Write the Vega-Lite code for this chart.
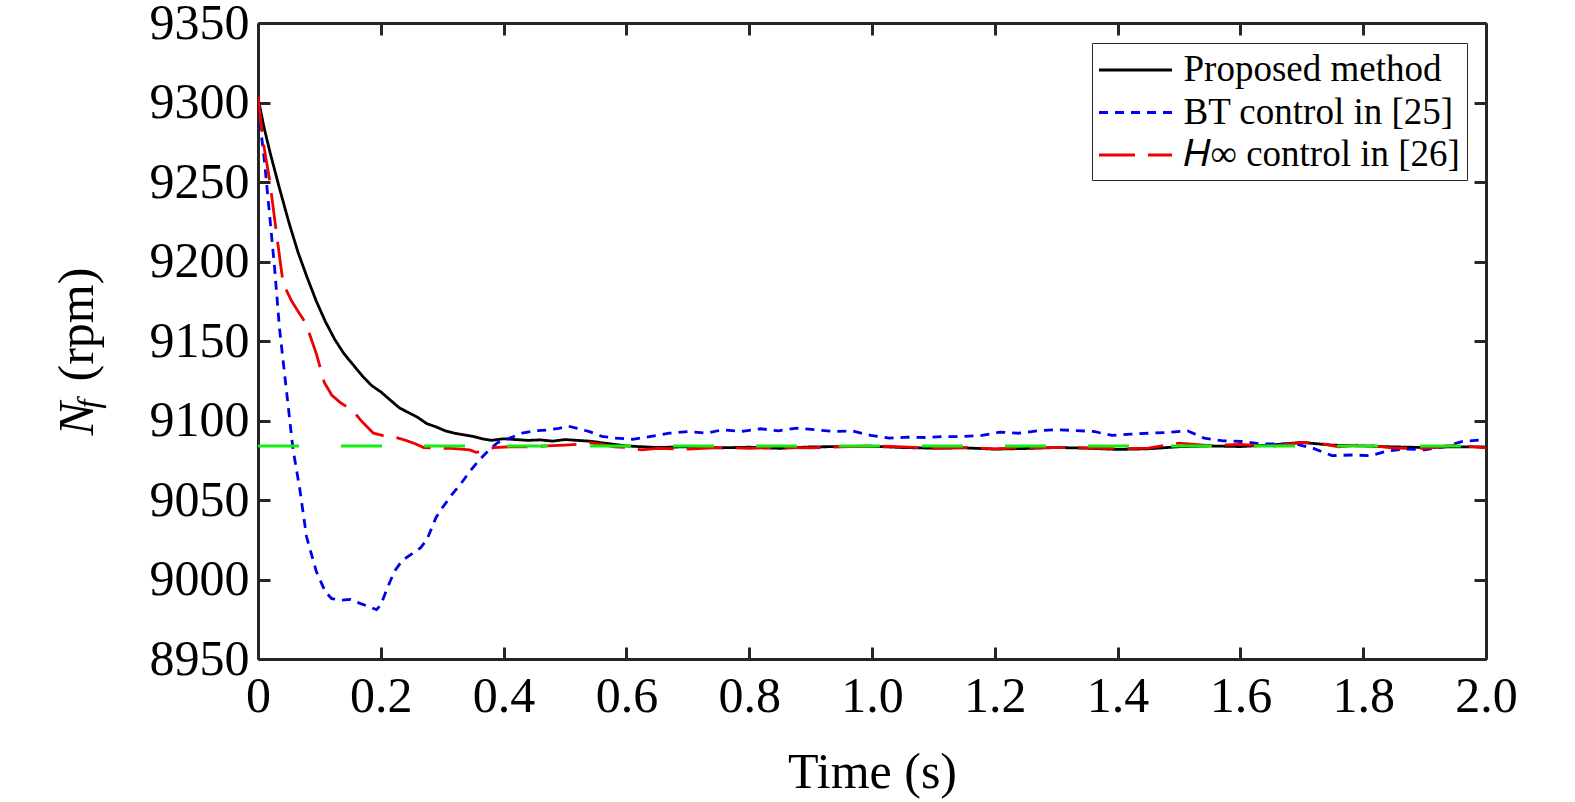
{
  "$schema": "https://vega.github.io/schema/vega-lite/v6.json",
  "width": 1228,
  "height": 636,
  "autosize": {"type": "none"},
  "padding": {"left": 258, "top": 23, "right": 89, "bottom": 143},
  "background": "white",
  "config": {
    "view": {"stroke": null},
    "axis": {
      "grid": false,
      "domainColor": "#262626",
      "domainWidth": 3,
      "tickColor": "#262626",
      "tickWidth": 3,
      "tickSize": -12,
      "labelFont": "Liberation Serif",
      "labelFontSize": 50,
      "labelColor": "black",
      "labelOverlap": false,
      "labelFlush": false,
      "titleFont": "Liberation Serif",
      "titleFontSize": 50,
      "titleFontWeight": "normal",
      "titleColor": "black"
    }
  },
  "datasets": {
    "curves": [
      {"t": 0, "v": 9303, "s": "Proposed method"},
      {"t": 0.01, "v": 9284, "s": "Proposed method"},
      {"t": 0.02, "v": 9268, "s": "Proposed method"},
      {"t": 0.035, "v": 9246, "s": "Proposed method"},
      {"t": 0.05, "v": 9225, "s": "Proposed method"},
      {"t": 0.065, "v": 9206, "s": "Proposed method"},
      {"t": 0.08, "v": 9190, "s": "Proposed method"},
      {"t": 0.095, "v": 9175, "s": "Proposed method"},
      {"t": 0.11, "v": 9162, "s": "Proposed method"},
      {"t": 0.125, "v": 9151, "s": "Proposed method"},
      {"t": 0.14, "v": 9142, "s": "Proposed method"},
      {"t": 0.155, "v": 9135, "s": "Proposed method"},
      {"t": 0.17, "v": 9128, "s": "Proposed method"},
      {"t": 0.185, "v": 9122, "s": "Proposed method"},
      {"t": 0.2, "v": 9118, "s": "Proposed method"},
      {"t": 0.215, "v": 9113, "s": "Proposed method"},
      {"t": 0.23, "v": 9108, "s": "Proposed method"},
      {"t": 0.245, "v": 9105, "s": "Proposed method"},
      {"t": 0.26, "v": 9102, "s": "Proposed method"},
      {"t": 0.275, "v": 9098, "s": "Proposed method"},
      {"t": 0.29, "v": 9096, "s": "Proposed method"},
      {"t": 0.305, "v": 9093.5, "s": "Proposed method"},
      {"t": 0.32, "v": 9092, "s": "Proposed method"},
      {"t": 0.335, "v": 9091, "s": "Proposed method"},
      {"t": 0.35, "v": 9090, "s": "Proposed method"},
      {"t": 0.365, "v": 9088.5, "s": "Proposed method"},
      {"t": 0.38, "v": 9087.5, "s": "Proposed method"},
      {"t": 0.4, "v": 9088.5, "s": "Proposed method"},
      {"t": 0.42, "v": 9088, "s": "Proposed method"},
      {"t": 0.44, "v": 9087.5, "s": "Proposed method"},
      {"t": 0.46, "v": 9087.8, "s": "Proposed method"},
      {"t": 0.48, "v": 9087, "s": "Proposed method"},
      {"t": 0.5, "v": 9088, "s": "Proposed method"},
      {"t": 0.52, "v": 9087.5, "s": "Proposed method"},
      {"t": 0.54, "v": 9087, "s": "Proposed method"},
      {"t": 0.56, "v": 9086, "s": "Proposed method"},
      {"t": 0.58, "v": 9085, "s": "Proposed method"},
      {"t": 0.6, "v": 9084, "s": "Proposed method"},
      {"t": 0.65, "v": 9083, "s": "Proposed method"},
      {"t": 0.7, "v": 9083.5, "s": "Proposed method"},
      {"t": 0.75, "v": 9082.8, "s": "Proposed method"},
      {"t": 0.8, "v": 9083.2, "s": "Proposed method"},
      {"t": 0.85, "v": 9082.5, "s": "Proposed method"},
      {"t": 0.9, "v": 9083.4, "s": "Proposed method"},
      {"t": 0.95, "v": 9083.6, "s": "Proposed method"},
      {"t": 1.0, "v": 9083.8, "s": "Proposed method"},
      {"t": 1.05, "v": 9083, "s": "Proposed method"},
      {"t": 1.1, "v": 9082.6, "s": "Proposed method"},
      {"t": 1.15, "v": 9082.8, "s": "Proposed method"},
      {"t": 1.2, "v": 9082, "s": "Proposed method"},
      {"t": 1.25, "v": 9082.4, "s": "Proposed method"},
      {"t": 1.3, "v": 9083, "s": "Proposed method"},
      {"t": 1.35, "v": 9082.6, "s": "Proposed method"},
      {"t": 1.4, "v": 9081.8, "s": "Proposed method"},
      {"t": 1.45, "v": 9082.2, "s": "Proposed method"},
      {"t": 1.5, "v": 9083.5, "s": "Proposed method"},
      {"t": 1.55, "v": 9084, "s": "Proposed method"},
      {"t": 1.6, "v": 9083.6, "s": "Proposed method"},
      {"t": 1.65, "v": 9084.6, "s": "Proposed method"},
      {"t": 1.7, "v": 9086.2, "s": "Proposed method"},
      {"t": 1.75, "v": 9084.5, "s": "Proposed method"},
      {"t": 1.8, "v": 9084, "s": "Proposed method"},
      {"t": 1.85, "v": 9083.4, "s": "Proposed method"},
      {"t": 1.9, "v": 9083, "s": "Proposed method"},
      {"t": 1.95, "v": 9083.5, "s": "Proposed method"},
      {"t": 2.0, "v": 9083.3, "s": "Proposed method"},

      {"t": 0, "v": 9298, "s": "BT control in [25]"},
      {"t": 0.01, "v": 9265, "s": "BT control in [25]"},
      {"t": 0.019, "v": 9229, "s": "BT control in [25]"},
      {"t": 0.027, "v": 9196, "s": "BT control in [25]"},
      {"t": 0.035, "v": 9158, "s": "BT control in [25]"},
      {"t": 0.046, "v": 9120, "s": "BT control in [25]"},
      {"t": 0.057, "v": 9082, "s": "BT control in [25]"},
      {"t": 0.068, "v": 9057, "s": "BT control in [25]"},
      {"t": 0.079, "v": 9027, "s": "BT control in [25]"},
      {"t": 0.095, "v": 9005, "s": "BT control in [25]"},
      {"t": 0.11, "v": 8992, "s": "BT control in [25]"},
      {"t": 0.12, "v": 8988, "s": "BT control in [25]"},
      {"t": 0.135, "v": 8987, "s": "BT control in [25]"},
      {"t": 0.15, "v": 8987.5, "s": "BT control in [25]"},
      {"t": 0.166, "v": 8985, "s": "BT control in [25]"},
      {"t": 0.18, "v": 8983, "s": "BT control in [25]"},
      {"t": 0.193, "v": 8981, "s": "BT control in [25]"},
      {"t": 0.2, "v": 8984, "s": "BT control in [25]"},
      {"t": 0.21, "v": 8994, "s": "BT control in [25]"},
      {"t": 0.222, "v": 9005, "s": "BT control in [25]"},
      {"t": 0.235, "v": 9012, "s": "BT control in [25]"},
      {"t": 0.25, "v": 9016, "s": "BT control in [25]"},
      {"t": 0.265, "v": 9020, "s": "BT control in [25]"},
      {"t": 0.275, "v": 9025, "s": "BT control in [25]"},
      {"t": 0.29, "v": 9039, "s": "BT control in [25]"},
      {"t": 0.3, "v": 9045, "s": "BT control in [25]"},
      {"t": 0.315, "v": 9053, "s": "BT control in [25]"},
      {"t": 0.33, "v": 9060, "s": "BT control in [25]"},
      {"t": 0.345, "v": 9068, "s": "BT control in [25]"},
      {"t": 0.36, "v": 9075, "s": "BT control in [25]"},
      {"t": 0.375, "v": 9081, "s": "BT control in [25]"},
      {"t": 0.39, "v": 9086, "s": "BT control in [25]"},
      {"t": 0.41, "v": 9089, "s": "BT control in [25]"},
      {"t": 0.43, "v": 9092, "s": "BT control in [25]"},
      {"t": 0.45, "v": 9093.5, "s": "BT control in [25]"},
      {"t": 0.47, "v": 9094, "s": "BT control in [25]"},
      {"t": 0.49, "v": 9095, "s": "BT control in [25]"},
      {"t": 0.505, "v": 9096.5, "s": "BT control in [25]"},
      {"t": 0.52, "v": 9095, "s": "BT control in [25]"},
      {"t": 0.54, "v": 9093, "s": "BT control in [25]"},
      {"t": 0.56, "v": 9090, "s": "BT control in [25]"},
      {"t": 0.58, "v": 9089, "s": "BT control in [25]"},
      {"t": 0.61, "v": 9088.2, "s": "BT control in [25]"},
      {"t": 0.64, "v": 9090, "s": "BT control in [25]"},
      {"t": 0.67, "v": 9092, "s": "BT control in [25]"},
      {"t": 0.7, "v": 9093, "s": "BT control in [25]"},
      {"t": 0.73, "v": 9092, "s": "BT control in [25]"},
      {"t": 0.757, "v": 9094.2, "s": "BT control in [25]"},
      {"t": 0.787, "v": 9093.1, "s": "BT control in [25]"},
      {"t": 0.818, "v": 9094.8, "s": "BT control in [25]"},
      {"t": 0.848, "v": 9093.5, "s": "BT control in [25]"},
      {"t": 0.877, "v": 9095.2, "s": "BT control in [25]"},
      {"t": 0.908, "v": 9094.2, "s": "BT control in [25]"},
      {"t": 0.938, "v": 9093.1, "s": "BT control in [25]"},
      {"t": 0.967, "v": 9093.5, "s": "BT control in [25]"},
      {"t": 0.998, "v": 9090.6, "s": "BT control in [25]"},
      {"t": 1.028, "v": 9088.9, "s": "BT control in [25]"},
      {"t": 1.057, "v": 9089.5, "s": "BT control in [25]"},
      {"t": 1.089, "v": 9089.3, "s": "BT control in [25]"},
      {"t": 1.118, "v": 9089.9, "s": "BT control in [25]"},
      {"t": 1.148, "v": 9089.9, "s": "BT control in [25]"},
      {"t": 1.179, "v": 9090.6, "s": "BT control in [25]"},
      {"t": 1.208, "v": 9092.7, "s": "BT control in [25]"},
      {"t": 1.238, "v": 9092, "s": "BT control in [25]"},
      {"t": 1.27, "v": 9093.5, "s": "BT control in [25]"},
      {"t": 1.301, "v": 9094.2, "s": "BT control in [25]"},
      {"t": 1.331, "v": 9093.7, "s": "BT control in [25]"},
      {"t": 1.361, "v": 9093.1, "s": "BT control in [25]"},
      {"t": 1.391, "v": 9090.6, "s": "BT control in [25]"},
      {"t": 1.421, "v": 9091.4, "s": "BT control in [25]"},
      {"t": 1.451, "v": 9092, "s": "BT control in [25]"},
      {"t": 1.481, "v": 9092.5, "s": "BT control in [25]"},
      {"t": 1.514, "v": 9093.5, "s": "BT control in [25]"},
      {"t": 1.541, "v": 9088.9, "s": "BT control in [25]"},
      {"t": 1.572, "v": 9087.2, "s": "BT control in [25]"},
      {"t": 1.602, "v": 9086.8, "s": "BT control in [25]"},
      {"t": 1.632, "v": 9085.3, "s": "BT control in [25]"},
      {"t": 1.662, "v": 9085.3, "s": "BT control in [25]"},
      {"t": 1.692, "v": 9085, "s": "BT control in [25]"},
      {"t": 1.719, "v": 9082.5, "s": "BT control in [25]"},
      {"t": 1.749, "v": 9077.9, "s": "BT control in [25]"},
      {"t": 1.782, "v": 9078.3, "s": "BT control in [25]"},
      {"t": 1.812, "v": 9077.9, "s": "BT control in [25]"},
      {"t": 1.839, "v": 9080.8, "s": "BT control in [25]"},
      {"t": 1.869, "v": 9082.1, "s": "BT control in [25]"},
      {"t": 1.9, "v": 9081.5, "s": "BT control in [25]"},
      {"t": 1.932, "v": 9083.6, "s": "BT control in [25]"},
      {"t": 1.962, "v": 9086.8, "s": "BT control in [25]"},
      {"t": 1.992, "v": 9087.8, "s": "BT control in [25]"},
      {"t": 2.0, "v": 9088, "s": "BT control in [25]"},

      {"t": 0, "v": 9304, "s": "𝐻∞ control in [26]"},
      {"t": 0.008, "v": 9276, "s": "𝐻∞ control in [26]"},
      {"t": 0.019, "v": 9251, "s": "𝐻∞ control in [26]"},
      {"t": 0.03, "v": 9218, "s": "𝐻∞ control in [26]"},
      {"t": 0.041, "v": 9186, "s": "𝐻∞ control in [26]"},
      {"t": 0.055, "v": 9175, "s": "𝐻∞ control in [26]"},
      {"t": 0.068, "v": 9167, "s": "𝐻∞ control in [26]"},
      {"t": 0.078, "v": 9161, "s": "𝐻∞ control in [26]"},
      {"t": 0.095, "v": 9142, "s": "𝐻∞ control in [26]"},
      {"t": 0.108, "v": 9124, "s": "𝐻∞ control in [26]"},
      {"t": 0.12, "v": 9116, "s": "𝐻∞ control in [26]"},
      {"t": 0.135, "v": 9111, "s": "𝐻∞ control in [26]"},
      {"t": 0.155, "v": 9106, "s": "𝐻∞ control in [26]"},
      {"t": 0.17, "v": 9099, "s": "𝐻∞ control in [26]"},
      {"t": 0.188, "v": 9092, "s": "𝐻∞ control in [26]"},
      {"t": 0.204, "v": 9090.5, "s": "𝐻∞ control in [26]"},
      {"t": 0.22, "v": 9089.8, "s": "𝐻∞ control in [26]"},
      {"t": 0.237, "v": 9088, "s": "𝐻∞ control in [26]"},
      {"t": 0.255, "v": 9085.5, "s": "𝐻∞ control in [26]"},
      {"t": 0.27, "v": 9083, "s": "𝐻∞ control in [26]"},
      {"t": 0.29, "v": 9082.5, "s": "𝐻∞ control in [26]"},
      {"t": 0.31, "v": 9082.6, "s": "𝐻∞ control in [26]"},
      {"t": 0.33, "v": 9082, "s": "𝐻∞ control in [26]"},
      {"t": 0.345, "v": 9081.5, "s": "𝐻∞ control in [26]"},
      {"t": 0.355, "v": 9080, "s": "𝐻∞ control in [26]"},
      {"t": 0.37, "v": 9081, "s": "𝐻∞ control in [26]"},
      {"t": 0.385, "v": 9083, "s": "𝐻∞ control in [26]"},
      {"t": 0.41, "v": 9083.5, "s": "𝐻∞ control in [26]"},
      {"t": 0.44, "v": 9083.4, "s": "𝐻∞ control in [26]"},
      {"t": 0.47, "v": 9084, "s": "𝐻∞ control in [26]"},
      {"t": 0.5, "v": 9084.5, "s": "𝐻∞ control in [26]"},
      {"t": 0.52, "v": 9085, "s": "𝐻∞ control in [26]"},
      {"t": 0.54, "v": 9086, "s": "𝐻∞ control in [26]"},
      {"t": 0.56, "v": 9085, "s": "𝐻∞ control in [26]"},
      {"t": 0.58, "v": 9083.5, "s": "𝐻∞ control in [26]"},
      {"t": 0.6, "v": 9083, "s": "𝐻∞ control in [26]"},
      {"t": 0.625, "v": 9081.5, "s": "𝐻∞ control in [26]"},
      {"t": 0.65, "v": 9082.5, "s": "𝐻∞ control in [26]"},
      {"t": 0.7, "v": 9082, "s": "𝐻∞ control in [26]"},
      {"t": 0.75, "v": 9083, "s": "𝐻∞ control in [26]"},
      {"t": 0.8, "v": 9082.5, "s": "𝐻∞ control in [26]"},
      {"t": 0.85, "v": 9083, "s": "𝐻∞ control in [26]"},
      {"t": 0.9, "v": 9082.8, "s": "𝐻∞ control in [26]"},
      {"t": 0.95, "v": 9083.5, "s": "𝐻∞ control in [26]"},
      {"t": 1.0, "v": 9084, "s": "𝐻∞ control in [26]"},
      {"t": 1.05, "v": 9083.4, "s": "𝐻∞ control in [26]"},
      {"t": 1.1, "v": 9082.5, "s": "𝐻∞ control in [26]"},
      {"t": 1.15, "v": 9083, "s": "𝐻∞ control in [26]"},
      {"t": 1.2, "v": 9082.2, "s": "𝐻∞ control in [26]"},
      {"t": 1.25, "v": 9083, "s": "𝐻∞ control in [26]"},
      {"t": 1.3, "v": 9083, "s": "𝐻∞ control in [26]"},
      {"t": 1.35, "v": 9082.8, "s": "𝐻∞ control in [26]"},
      {"t": 1.4, "v": 9082.3, "s": "𝐻∞ control in [26]"},
      {"t": 1.45, "v": 9082.6, "s": "𝐻∞ control in [26]"},
      {"t": 1.5, "v": 9085.8, "s": "𝐻∞ control in [26]"},
      {"t": 1.55, "v": 9084.2, "s": "𝐻∞ control in [26]"},
      {"t": 1.6, "v": 9085, "s": "𝐻∞ control in [26]"},
      {"t": 1.65, "v": 9083.6, "s": "𝐻∞ control in [26]"},
      {"t": 1.7, "v": 9086.2, "s": "𝐻∞ control in [26]"},
      {"t": 1.73, "v": 9085.5, "s": "𝐻∞ control in [26]"},
      {"t": 1.76, "v": 9083.5, "s": "𝐻∞ control in [26]"},
      {"t": 1.8, "v": 9084.8, "s": "𝐻∞ control in [26]"},
      {"t": 1.85, "v": 9082.6, "s": "𝐻∞ control in [26]"},
      {"t": 1.9, "v": 9082.5, "s": "𝐻∞ control in [26]"},
      {"t": 1.95, "v": 9084.5, "s": "𝐻∞ control in [26]"},
      {"t": 2.0, "v": 9082.8, "s": "𝐻∞ control in [26]"}
    ],
    "ref": [
      {"t": 0, "v": 9084},
      {"t": 2, "v": 9084}
    ]
  },
  "layer": [
    {
      "data": {"name": "curves"},
      "mark": {"type": "line", "strokeWidth": 2.8, "clip": true},
      "encoding": {
        "x": {
          "field": "t",
          "type": "quantitative",
          "scale": {"domain": [0, 2], "nice": false},
          "axis": {
            "orient": "top",
            "values": [0, 0.2, 0.4, 0.6, 0.8, 1.0, 1.2, 1.4, 1.6, 1.8, 2.0],
            "labels": false,
            "title": "f",
            "titleFontStyle": "italic",
            "titleFontSize": 32,
            "titleAngle": 270,
            "titleAlign": "left",
            "titleBaseline": "alphabetic",
            "titleX": -160,
            "titleY": 385
          }
        },
        "y": {
          "field": "v",
          "type": "quantitative",
          "scale": {"domain": [8950, 9350], "nice": false},
          "axis": {
            "orient": "right",
            "values": [8950, 9000, 9050, 9100, 9150, 9200, 9250, 9300, 9350],
            "labels": false,
            "title": "N",
            "titleFontStyle": "italic",
            "titleAngle": 270,
            "titleAlign": "left",
            "titleBaseline": "alphabetic",
            "titleX": -1394,
            "titleY": 412
          }
        },
        "color": {
          "field": "s",
          "type": "nominal",
          "scale": {
            "domain": ["Proposed method", "BT control in [25]", "𝐻∞ control in [26]"],
            "range": ["#000000", "#0000ee", "#ee0000"]
          },
          "legend": {
            "title": null,
            "orient": "none",
            "legendX": 834,
            "legendY": 20,
            "symbolType": "M-2,0L2,0",
            "symbolSize": 1332,
            "symbolStrokeWidth": 3,
            "symbolOffset": 16.5,
            "labelFont": "Liberation Serif",
            "labelFontSize": 37,
            "labelColor": "black",
            "labelOffset": 28,
            "labelLimit": 0,
            "padding": 7,
            "rowPadding": 4.5,
            "strokeColor": "#262626",
            "fillColor": "white"
          }
        },
        "strokeDash": {
          "field": "s",
          "type": "nominal",
          "scale": {
            "domain": ["Proposed method", "BT control in [25]", "𝐻∞ control in [26]"],
            "range": [[1, 0], [9, 7], [36, 13]]
          },
          "legend": null
        }
      }
    },
    {
      "data": {"name": "ref"},
      "mark": {"type": "line", "color": "#11ee11", "strokeWidth": 3, "strokeDash": [41, 42]},
      "encoding": {
        "x": {
          "field": "t",
          "type": "quantitative",
          "axis": {
            "orient": "bottom",
            "values": [0, 0.2, 0.4, 0.6, 0.8, 1.0, 1.2, 1.4, 1.6, 1.8, 2.0],
            "labelExpr": "datum.value == 0 ? '0' : format(datum.value, '.1f')",
            "labelPadding": 24,
            "title": "Time (s)",
            "titleBaseline": "alphabetic",
            "titleY": 128
          }
        },
        "y": {
          "field": "v",
          "type": "quantitative",
          "axis": {
            "orient": "left",
            "values": [8950, 9000, 9050, 9100, 9150, 9200, 9250, 9300, 9350],
            "format": "d",
            "labelPadding": 21,
            "title": "(rpm)",
            "titleAngle": 270,
            "titleAlign": "left",
            "titleBaseline": "alphabetic",
            "titleX": -166,
            "titleY": 358
          }
        }
      }
    }
  ]
}
